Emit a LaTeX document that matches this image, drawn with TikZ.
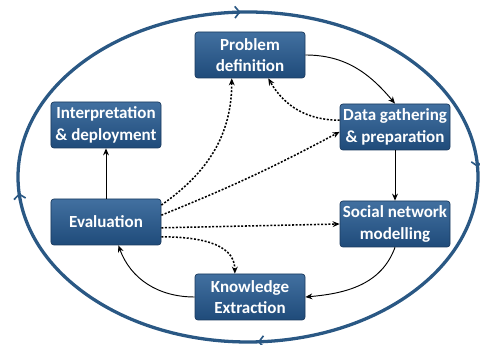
\documentclass[tikz,border=0pt]{standalone}
\usepackage{fontspec}
\setmainfont{Carlito}
\usetikzlibrary{arrows.meta,decorations.markings}

\definecolor{boxtop}{RGB}{66,112,160}
\definecolor{boxbot}{RGB}{31,75,122}
\definecolor{boxline}{RGB}{26,58,94}
\definecolor{ringblue}{RGB}{42,88,132}

\tikzset{
	stage/.style={draw=boxline, line width=0.6pt, rounded corners=2.5pt, top color=boxtop, bottom color=boxbot, text=white, font=\fontsize{14.5}{18.5}\selectfont\bfseries, align=center, minimum width=3.3cm, minimum height=1.38cm, inner sep=1pt},
	flow/.style={-{Stealth[length=6pt,width=5pt]}, line width=0.8pt},
	hint/.style={-{Stealth[length=6pt,width=5pt]}, line width=1.3pt, dash pattern=on 1.7pt off 1.4pt},
	ringtip/.style={ringblue, line width=1.4pt},
	ring/.style={ringblue, line width=2.8pt, postaction={decorate}, decoration={markings,
		mark=at position 0.132 with {\arrow[ringtip]{Straight Barb[length=4pt,width=10pt]}},
		mark=at position 0.38 with {\arrow[ringtip]{Straight Barb[length=4pt,width=10pt]}},
		mark=at position 0.63 with {\arrow[ringtip]{Straight Barb[length=4pt,width=10pt]}},
		mark=at position 0.875 with {\arrow[ringtip]{Straight Barb[length=4pt,width=10pt]}}}}
}

\begin{document}
\begin{tikzpicture}[x=0.03cm,y=0.03cm]
	\useasboundingbox (0,0) rectangle (480,345);
	% outer cycle
	\draw[ring] (248,168) ++(135:230 and 165) arc[start angle=135, end angle=-225, x radius=230, y radius=165];

	% stages
	\node (prob) at (250,290)[stage]{Problem\\definition};
	\node (interp) at (106,220)[stage]{Interpretation\\\& deployment};
	\node (data) at (395,218)[stage]{Data gathering\\\& preparation};
	\node (eval) at (106,123)[stage]{Evaluation};
	\node (social) at (395,121)[stage]{Social network\\modelling};
	\node (know) at (250,48)[stage]{Knowledge\\Extraction};

	% main flow
	\draw[flow] (prob.east) to[out=0, in=130] (data.north);
	\draw[flow] (data.south) -- (social.north);
	\draw[flow] (social.south) to[out=-110, in=5] (know.east);
	\draw[flow] (know.west) to[out=180, in=-70] (eval.-62);
	\draw[flow] (eval.north) -- (interp.south);

	% feedback from evaluation
	\draw[hint] (eval.17) to[out=35, in=-90] (prob.-128);
	\draw[hint] (eval.7) to[bend right=3] (data.-175);
	\draw[hint] (eval.-6) -- (social.west);
	\draw[hint] (eval.-15) to[out=0, in=90] (know.123);
	\draw[hint] (data.173) to[out=180, in=-60] (prob.-52);
\end{tikzpicture}
\end{document}
